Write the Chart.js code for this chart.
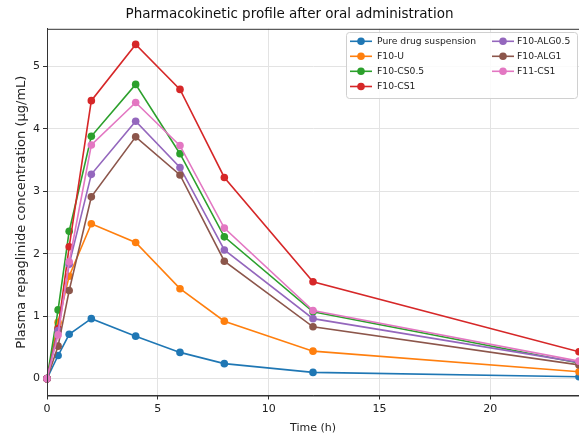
<!DOCTYPE html>
<html>
<head>
<meta charset="utf-8">
<script src="https://cdn.jsdelivr.net/npm/chart.js@4.4.1/dist/chart.umd.min.js"></script>
<style>
  html, body { margin: 0; padding: 0; background: #fff; }
  #wrap { width: 579px; height: 435px; }
</style>
</head>
<body>
<div id="wrap"><canvas id="pk"></canvas></div>
<script>
// sampling times (h)
const times = [0, 0.5, 1, 2, 4, 6, 8, 12, 24];

// plasma concentration (µg/mL) per formulation
const pureDrug  = [0, 0.37, 0.71, 0.96, 0.68, 0.42, 0.24, 0.10, 0.03];
const f10U      = [0, 0.90, 1.64, 2.48, 2.18, 1.44, 0.92, 0.44, 0.11];
const f10CS05   = [0, 1.10, 2.36, 3.88, 4.71, 3.60, 2.27, 1.07, 0.25];
const f10CS1    = [0, 0.80, 2.11, 4.45, 5.35, 4.63, 3.22, 1.55, 0.43];
const f10ALG05  = [0, 0.77, 1.83, 3.27, 4.12, 3.38, 2.06, 0.96, 0.26];
const f10ALG1   = [0, 0.52, 1.41, 2.91, 3.87, 3.26, 1.88, 0.83, 0.22];
const f11CS1    = [0, 0.70, 1.87, 3.74, 4.42, 3.73, 2.41, 1.09, 0.28];

const seriesNames = ['Pure drug suspension', 'F10-U', 'F10-CS0.5', 'F10-CS1', 'F10-ALG0.5', 'F10-ALG1', 'F11-CS1'];
const seriesValues = [pureDrug, f10U, f10CS05, f10CS1, f10ALG05, f10ALG1, f11CS1];
const seriesColors = ['#1f77b4', '#ff7f0e', '#2ca02c', '#d62728', '#9467bd', '#8c564b', '#e377c2'];

const FONT = "'DejaVu Sans', sans-serif";

const datasets = seriesValues.map((vals, i) => ({
  label: seriesNames[i],
  data: vals.map((v, k) => ({ x: times[k], y: v })),
  borderColor: seriesColors[i],
  backgroundColor: seriesColors[i],
  borderWidth: 1.6,
  pointRadius: 3.8,
  pointHoverRadius: 3.8,
  pointBorderWidth: 0,
  tension: 0,
  clip: false,
  order: -i   // later series on top
}));

// frame around the plot area
const frame = {
  id: 'frame',
  afterDatasetsDraw(chart) {
    const { ctx, chartArea: a } = chart;
    ctx.save();
    ctx.strokeStyle = '#333';
    ctx.lineWidth = 1;
    ctx.strokeRect(a.left + 0.5, a.top + 0.5, a.right - a.left, a.bottom - a.top);
    ctx.restore();
  }
};

// two-column legend in the upper right corner
const boxLegend = {
  id: 'boxLegend',
  afterDraw(chart) {
    const { ctx } = chart;
    const bx = 346.5, by = 32.5, bw = 231, bh = 66;
    ctx.save();
    ctx.beginPath();
    ctx.roundRect(bx, by, bw, bh, 3);
    ctx.fillStyle = 'rgba(255,255,255,0.85)';
    ctx.fill();
    ctx.strokeStyle = '#d0d0d0';
    ctx.lineWidth = 1;
    ctx.stroke();

    ctx.font = '9.2px ' + FONT;
    ctx.textBaseline = 'middle';
    ctx.textAlign = 'left';
    const rowY = [41.3, 56.3, 71.3, 86.5];
    const cols = [{ x0: 350, x1: 372, tx: 377 }, { x0: 492, x1: 514, tx: 517 }];
    chart.data.datasets.forEach((ds, i) => {
      const c = cols[i < 4 ? 0 : 1];
      const y = rowY[i < 4 ? i : i - 4];
      ctx.strokeStyle = ds.borderColor;
      ctx.lineWidth = 1.6;
      ctx.beginPath();
      ctx.moveTo(c.x0, y);
      ctx.lineTo(c.x1, y);
      ctx.stroke();
      ctx.fillStyle = ds.borderColor;
      ctx.beginPath();
      ctx.arc((c.x0 + c.x1) / 2, y, 3.8, 0, Math.PI * 2);
      ctx.fill();
      ctx.fillStyle = '#222';
      ctx.fillText(ds.label, c.tx, y + 0.5);
    });
    ctx.restore();
  }
};

new Chart(document.getElementById('pk'), {
  type: 'line',
  data: { datasets },
  options: {
    responsive: true,
    maintainAspectRatio: false,
    animation: false,
    events: [],
    layout: { autoPadding: false, padding: { left: 0, right: 0, top: 0, bottom: 0 } },
    plugins: {
      legend: { display: false },
      tooltip: { enabled: false },
      title: {
        display: true,
        text: 'Pharmacokinetic profile after oral administration',
        color: '#111',
        font: { family: FONT, size: 13.5, weight: 'normal' },
        padding: { top: 6, bottom: 6.6 }
      }
    },
    scales: {
      x: {
        type: 'linear',
        min: 0,
        max: 24,
        afterBuildTicks(s) { s.ticks = [0, 5, 10, 15, 20].map(v => ({ value: v })); },
        afterFit(s) { s.height = 39.5; },
        ticks: { color: '#222', font: { family: FONT, size: 11 }, padding: 3, maxRotation: 0 },
        grid: { color: '#e3e3e3', tickColor: '#333', tickLength: 4, lineWidth: 1 },
        border: { color: '#333', width: 1 },
        title: {
          display: true,
          text: 'Time (h)',
          color: '#222',
          font: { family: FONT, size: 11 },
          padding: { top: 2, bottom: 0 }
        }
      },
      y: {
        type: 'linear',
        min: -0.27,
        max: 5.6,
        afterBuildTicks(s) { s.ticks = [0, 1, 2, 3, 4, 5].map(v => ({ value: v })); },
        afterFit(s) { s.width = 47; },
        ticks: { color: '#222', font: { family: FONT, size: 11 }, padding: 3 },
        grid: { color: '#e3e3e3', tickColor: '#333', tickLength: 4, lineWidth: 1 },
        border: { color: '#333', width: 1 },
        title: {
          display: true,
          text: 'Plasma repaglinide concentration (µg/mL)',
          color: '#222',
          font: { family: FONT, size: 13 },
          padding: { top: 14, bottom: 0 }
        }
      }
    }
  },
  plugins: [frame, boxLegend]
});
</script>
</body>
</html>
